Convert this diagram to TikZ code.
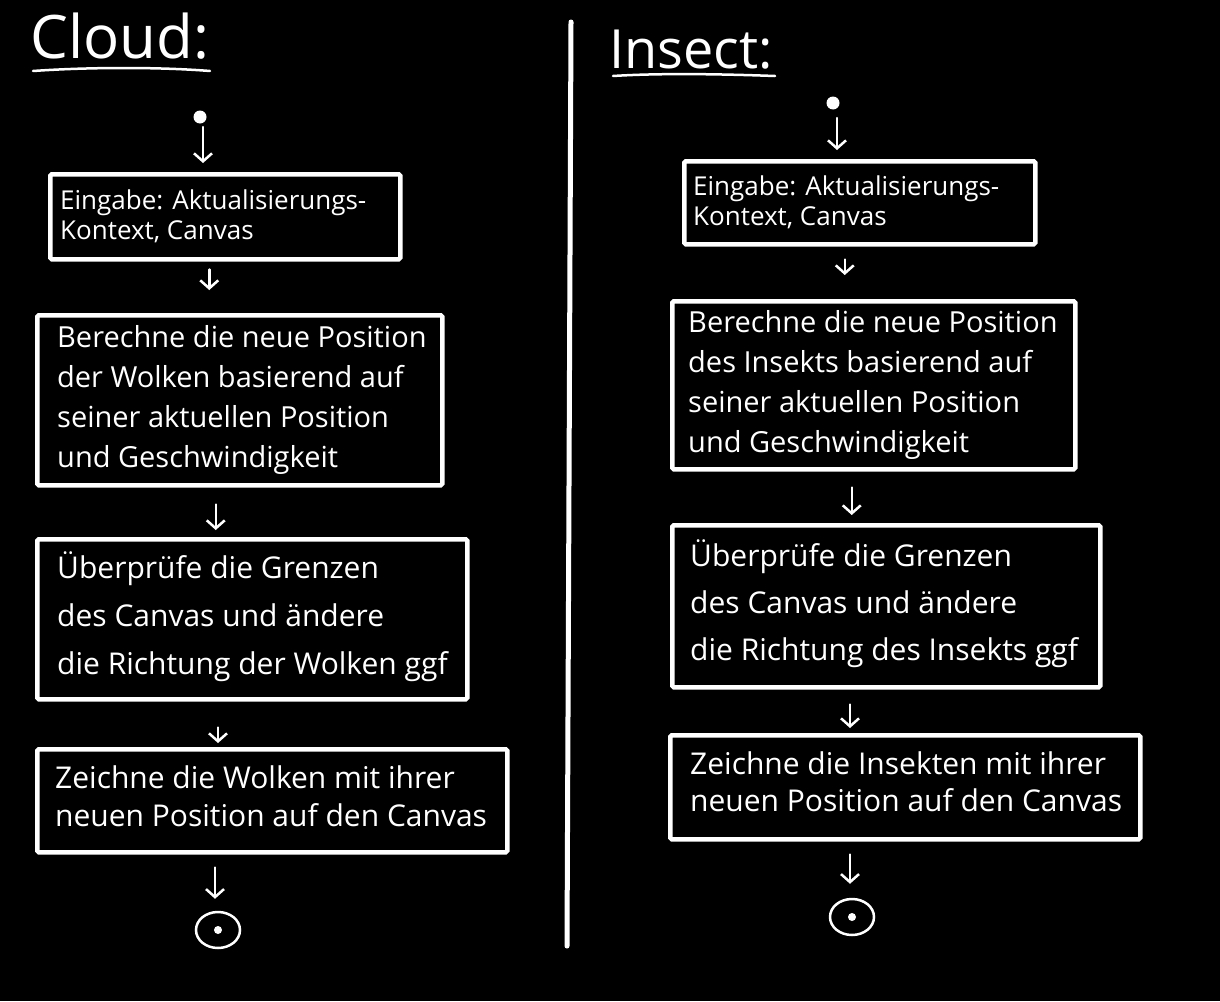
\documentclass[tikz,border=0pt]{standalone}
\usepackage{fontspec}
\setmainfont{Open Sans}
\usetikzlibrary{arrows.meta,shapes.geometric}
\begin{document}
\begin{tikzpicture}[x=1pt,y=-1pt,
  stepbox/.style={draw=white, line width=4.5pt, rounded corners=1.5pt, anchor=north west, inner sep=0pt},
  steptext/.style={text=white, anchor=west, align=left, inner sep=0pt},
  arr/.style={draw=white, line width=2.5pt, -{Straight Barb[length=8pt,width=18pt]}, line cap=round},
  title/.style={text=white, anchor=base west, inner sep=0pt},
  uline/.style={draw=white, line width=2.5pt, line cap=round},
  startdot/.style={circle, fill=white, minimum size=13pt, inner sep=0pt},
  endnode/.style={ellipse, draw=white, line width=2.5pt, minimum width=44pt, minimum height=36pt, inner sep=0pt,
    path picture={\fill[white] (path picture bounding box.center) circle (4pt);}},
  divider/.style={draw=white, line width=5pt, line cap=round}
]
\useasboundingbox (0,0) rectangle (1220,1001);
\fill[black] (0,0) rectangle (1220,1001);

% divider
\coordinate (divtop) at (571,22);
\coordinate (divbot) at (567,946);
\draw[divider] (divtop) -- (divbot);

% ---------- Cloud ----------
\node[title, font=\fontsize{60}{66}\selectfont] (t1) at (30,58) {Cloud:};
\coordinate (u1a) at (33,71);
\coordinate (u1b) at (210,71);
\draw[uline] (u1a) .. controls (90,67) and (160,67) .. (u1b);

\node[startdot] (s1) at (200,117) {};

\node[stepbox, minimum width=350pt, minimum height=85pt] (l1) at (48,172) {};
\node[steptext, font=\fontsize{26}{30}\selectfont] (l1t) at ([xshift=12pt]l1.west)
  {Eingabe: Aktualisierungs-\\Kontext, Canvas};

\node[stepbox, minimum width=405pt, minimum height=170pt] (l2) at (35,313) {};
\node[steptext, font=\fontsize{29}{40}\selectfont] (l2t) at ([xshift=22pt]l2.west)
  {Berechne die neue Position\\der Wolken basierend auf\\seiner aktuellen Position\\und Geschwindigkeit};

\node[stepbox, minimum width=430pt, minimum height=160pt] (l3) at (35,537) {};
\node[steptext, font=\fontsize{30}{48}\selectfont] (l3t) at ([xshift=22pt,yshift=3pt]l3.west)
  {Überprüfe die Grenzen\\des Canvas und ändere\\die Richtung der Wolken ggf};

\node[stepbox, minimum width=470pt, minimum height=103pt] (l4) at (35,747) {};
\node[steptext, font=\fontsize{30}{38}\selectfont] (l4t) at ([xshift=20pt,yshift=5pt]l4.west)
  {Zeichne die Wolken mit ihrer\\neuen Position auf den Canvas};

\node[endnode] (e1) at (218,930) {};

\draw[arr, shorten <=10pt, shorten >=9pt] ([xshift=3pt]s1.center) -- ([xshift=3pt]s1.center |- l1.north);
\draw[arr, shorten <=8pt, shorten >=23pt] ([xshift=-16pt]l1.south) -- ([xshift=-16pt]l1.south |- l2.north);
\draw[arr, shorten <=17pt, shorten >=7pt] ([xshift=-24pt]l2.south) -- ([xshift=-24pt]l2.south |- l3.north);
\draw[arr, shorten <=26pt, shorten >=4pt] (e1.center |- l3.south) -- (e1.center |- l4.north);
\draw[arr, shorten <=13pt, shorten >=12pt] ([xshift=-3pt]e1.center |- l4.south) -- ([xshift=-3pt]e1.north);

% ---------- Insect ----------
\node[title, font=\fontsize{54}{60}\selectfont] (t2) at (609,68) {Insect:};
\coordinate (u2a) at (613,76);
\coordinate (u2b) at (775,76);
\draw[uline] (u2a) .. controls (660,73) and (720,74) .. (u2b);

\node[startdot] (s2) at (833,103) {};

\node[stepbox, minimum width=351pt, minimum height=83pt] (r1) at (682,159) {};
\node[steptext, font=\fontsize{26}{30}\selectfont] (r1t) at ([xshift=11pt]r1.west)
  {Eingabe: Aktualisierungs-\\Kontext, Canvas};

\node[stepbox, minimum width=403pt, minimum height=168pt] (r2) at (670,299) {};
\node[steptext, font=\fontsize{29}{40}\selectfont] (r2t) at ([xshift=18pt]r2.west)
  {Berechne die neue Position\\des Insekts basierend auf\\seiner aktuellen Position\\und Geschwindigkeit};

\node[stepbox, minimum width=428pt, minimum height=162pt] (r3) at (670,523) {};
\node[steptext, font=\fontsize{30}{47}\selectfont] (r3t) at ([xshift=20pt,yshift=3pt]r3.west)
  {Überprüfe die Grenzen\\des Canvas und ändere\\die Richtung des Insekts ggf};

\node[stepbox, minimum width=470pt, minimum height=104pt] (r4) at (668,733) {};
\node[steptext, font=\fontsize{30}{37}\selectfont] (r4t) at ([xshift=22pt,yshift=6pt]r4.west)
  {Zeichne die Insekten mit ihrer\\neuen Position auf den Canvas};

\node[endnode] (e2) at (852,917) {};

\draw[arr, shorten <=15pt, shorten >=9pt] ([xshift=4pt]s2.center) -- ([xshift=4pt]s2.center |- r1.north);
\draw[arr, shorten <=13pt, shorten >=24pt] ([xshift=-15pt]r1.south) -- ([xshift=-15pt]r1.south |- r2.north);
\draw[arr, shorten <=16pt, shorten >=8pt] ([xshift=-22pt]r2.south) -- ([xshift=-22pt]r2.south |- r3.north);
\draw[arr, shorten <=15pt, shorten >=5pt] ([xshift=-2pt]e2.center |- r3.south) -- ([xshift=-2pt]e2.center |- r4.north);
\draw[arr, shorten <=13pt, shorten >=14pt] ([xshift=-2pt]e2.center |- r4.south) -- ([xshift=-2pt]e2.north);
\end{tikzpicture}
\end{document}
